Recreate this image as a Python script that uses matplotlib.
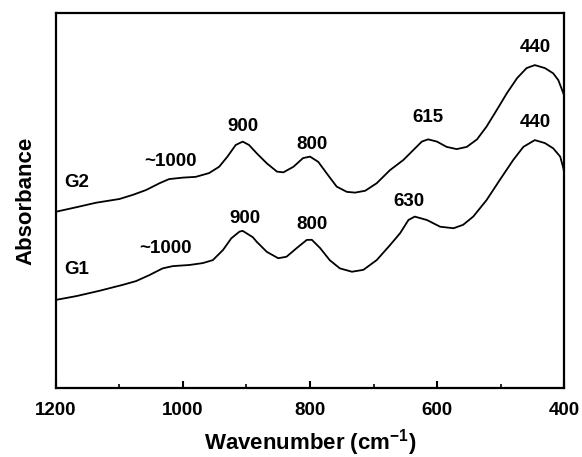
import matplotlib
matplotlib.use('Agg')
import matplotlib.pyplot as plt
from matplotlib.ticker import MultipleLocator

plt.rcParams['font.family'] = ['Liberation Sans', 'DejaVu Sans']
plt.rcParams['font.weight'] = 'bold'
plt.rcParams['mathtext.fontset'] = 'custom'
plt.rcParams['mathtext.rm'] = 'Liberation Sans:bold'
plt.rcParams['mathtext.default'] = 'rm'

# IR spectra (absorbance in arbitrary units)
wn_g2 = [1200, 1168, 1137, 1100, 1079, 1058, 1037, 1022, 1000, 980, 959, 943, 930, 917,
         906, 896, 884, 868, 852, 842, 826, 811, 800, 787, 774, 758, 742, 729, 713, 695,
         674, 653, 637, 624, 614, 600, 585, 569, 553, 537, 522, 506, 490, 474, 459, 446,
         430, 417, 409, 404, 400]
abs_g2 = [0.470, 0.482, 0.494, 0.504, 0.515, 0.528, 0.546, 0.557, 0.561, 0.563, 0.573,
          0.590, 0.617, 0.648, 0.657, 0.648, 0.626, 0.599, 0.577, 0.575, 0.590, 0.613,
          0.617, 0.603, 0.573, 0.537, 0.523, 0.521, 0.526, 0.546, 0.581, 0.608, 0.635,
          0.657, 0.663, 0.657, 0.643, 0.637, 0.643, 0.663, 0.697, 0.741, 0.786, 0.826,
          0.853, 0.861, 0.853, 0.839, 0.821, 0.799, 0.781]

wn_g1 = [1200, 1168, 1132, 1095, 1074, 1053, 1032, 1016, 990, 969, 953, 937, 924, 911,
         906, 890, 884, 868, 850, 837, 821, 805, 797, 784, 769, 753, 734, 716, 695, 674,
         658, 645, 635, 616, 595, 574, 559, 543, 522, 501, 480, 464, 446, 430, 417, 406,
         401, 400]
abs_g1 = [0.235, 0.245, 0.259, 0.275, 0.285, 0.301, 0.319, 0.325, 0.328, 0.333, 0.341,
          0.368, 0.399, 0.417, 0.419, 0.402, 0.390, 0.363, 0.346, 0.350, 0.373, 0.395,
          0.395, 0.373, 0.341, 0.319, 0.310, 0.315, 0.341, 0.381, 0.413, 0.448, 0.457,
          0.448, 0.430, 0.426, 0.435, 0.457, 0.501, 0.555, 0.608, 0.643, 0.661, 0.653,
          0.639, 0.617, 0.586, 0.576]

# peak labels: (text, wavenumber, absorbance)
labels_g2 = [('G2', 1168, 0.547), ('~1000', 1020, 0.603), ('900', 905, 0.696),
             ('800', 797, 0.648), ('615', 614, 0.720), ('440', 445, 0.909)]
labels_g1 = [('G1', 1168, 0.315), ('~1000', 1027, 0.373), ('900', 902, 0.453),
             ('800', 797, 0.435), ('630', 644, 0.496), ('440', 445, 0.707)]

fig = plt.figure(figsize=(5.82, 4.57), dpi=100)
ax = fig.add_axes([0.0962, 0.151, 0.8729, 0.8206])

ax.plot(wn_g2, abs_g2, color='black', lw=1.3, solid_joinstyle='round')
ax.plot(wn_g1, abs_g1, color='black', lw=1.3, solid_joinstyle='round')

for txt, x, y in labels_g2 + labels_g1:
    ax.text(x, y, txt, ha='center', va='center', fontsize=13.5, fontweight='bold')

ax.set_xlim(1200, 400)
ax.set_ylim(0, 1)
ax.xaxis.set_major_locator(MultipleLocator(200))
ax.xaxis.set_minor_locator(MultipleLocator(100))
ax.set_yticks([])
ax.tick_params(axis='x', which='major', direction='in', length=5, width=1.5,
               labelsize=13.5, pad=10)
ax.tick_params(axis='x', which='minor', direction='in', length=3, width=1.2)
for s in ax.spines.values():
    s.set_linewidth(1.6)

ax.set_xlabel('Wavenumber (cm$^{-1}$)', fontsize=16, fontweight='bold', labelpad=6)
ax.set_ylabel('Absorbance', fontsize=16, fontweight='bold', labelpad=14)

fig.savefig('out.png', dpi=100)
